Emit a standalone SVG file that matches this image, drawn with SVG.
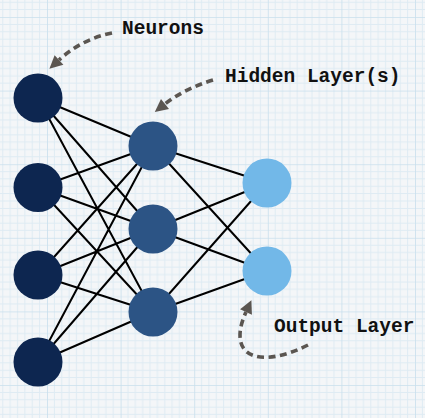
<svg xmlns="http://www.w3.org/2000/svg" width="425" height="418" viewBox="0 0 425 418">
<defs>
<pattern id="grid" patternUnits="userSpaceOnUse" x="47" y="17" width="73.6" height="73.6">
<path d="M7.36,0V73.6M14.72,0V73.6M22.08,0V73.6M29.44,0V73.6M36.8,0V73.6M44.16,0V73.6M51.52,0V73.6M58.88,0V73.6M66.24,0V73.6M0,7.36H73.6M0,14.72H73.6M0,22.08H73.6M0,29.44H73.6M0,36.8H73.6M0,44.16H73.6M0,51.52H73.6M0,58.88H73.6M0,66.24H73.6" stroke="#deebf3" stroke-width="1" fill="none"/>
<path d="M0,0V73.6M0,0H73.6" stroke="#c9dfed" stroke-width="1.6" fill="none"/>
</pattern>
<marker id="ah" markerUnits="userSpaceOnUse" markerWidth="20" markerHeight="20" refX="0" refY="0" viewBox="-2 -10 20 20" orient="auto">
<path d="M0,-6.5 L13,0 L0,6.5 z" fill="#5b5651"/>
</marker>
</defs>
<style>
.in{fill:#0d2650}
.hid{fill:#2c5485}
.out{fill:#72b8e8}
.edge{stroke:#000;stroke-width:2;fill:none}
.arr{stroke:#5b5651;stroke-width:3.6;fill:none;stroke-dasharray:7 4.5;marker-end:url(#ah)}
.lbl{font-family:"Liberation Mono","Courier New",monospace;font-weight:bold;font-size:19.5px;fill:#111}
</style>
<rect width="425" height="418" fill="#f4f6f8"/>
<rect width="425" height="418" fill="url(#grid)"/>
<g id="connectors">
<path class="edge" d="M38,98L153,146M38,98L153,229M38,98L153,312M38,187.5L153,146M38,187.5L153,229M38,187.5L153,312M38,275L153,146M38,275L153,229M38,275L153,312M38,362L153,146M38,362L153,229M38,362L153,312M153,146L267,183M153,146L267,271M153,229L267,183M153,229L267,271M153,312L267,183M153,312L267,271"/>
<path class="arr" d="M112,33 Q82,39 59,60"/>
<path class="arr" d="M213,80 Q184,89 165,104"/>
<path class="arr" d="M308,345 C258,370 226,356 246,312"/>
</g>
<g id="input1"><circle class="in" cx="38" cy="98" r="24.5"/></g>
<g id="input2"><circle class="in" cx="38" cy="187.5" r="24.5"/></g>
<g id="input3"><circle class="in" cx="38" cy="275" r="24.5"/></g>
<g id="input4"><circle class="in" cx="38" cy="362" r="24.5"/></g>
<g id="hidden1"><circle class="hid" cx="153" cy="146" r="24.5"/></g>
<g id="hidden2"><circle class="hid" cx="153" cy="229" r="24.5"/></g>
<g id="hidden3"><circle class="hid" cx="153" cy="312" r="24.5"/></g>
<g id="output1"><circle class="out" cx="267" cy="183" r="24.5"/></g>
<g id="output2"><circle class="out" cx="267" cy="271" r="24.5"/></g>
<g id="label-neurons"><text class="lbl" x="122" y="34">Neurons</text></g>
<g id="label-hidden"><text class="lbl" x="225" y="82">Hidden Layer(s)</text></g>
<g id="label-output"><text class="lbl" x="274" y="332">Output Layer</text></g>
</svg>
